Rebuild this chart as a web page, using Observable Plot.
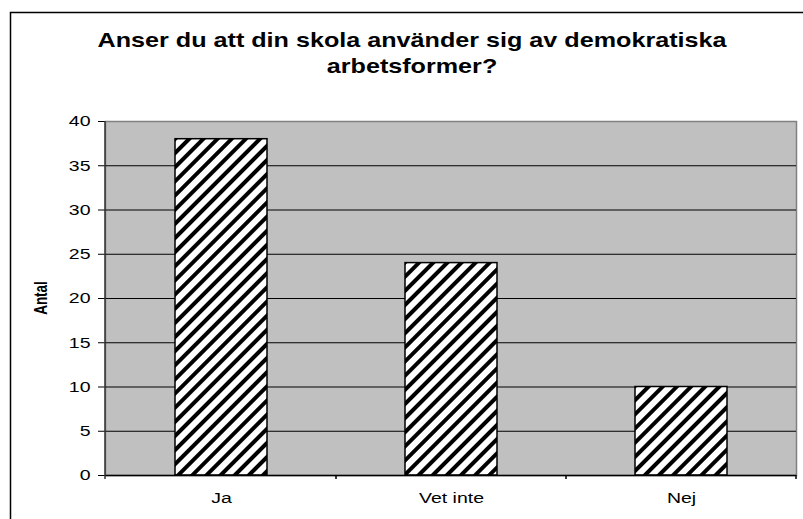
<!DOCTYPE html>
<html>
<head>
<meta charset="utf-8">
<script src="https://cdn.jsdelivr.net/npm/d3@7"></script>
<script src="https://cdn.jsdelivr.net/npm/@observablehq/plot@0.6"></script>
<style>
  html, body { margin: 0; padding: 0; background: #fff; }
  #chart { position: relative; width: 803px; height: 519px; overflow: hidden; }
</style>
</head>
<body>
<div id="chart"></div>
<script>
const titleLines = ["Anser du att din skola använder sig av demokratiska", "arbetsformer?"];
const yLabel = "Antal";
const categories = ["Ja", "Vet inte", "Nej"];
const values = [38, 24, 10];
const yTicks = [0, 5, 10, 15, 20, 25, 30, 35, 40];
const gridValues = [5, 10, 15, 20, 25, 30, 35];

const data = categories.map((c, i) => ({cat: c, val: values[i]}));
const font = "'Liberation Sans', Arial, sans-serif";
const SX = 1.3; // horizontal stretch of the reference's text

const plot = Plot.plot({
  width: 803,
  height: 519,
  marginLeft: 105,
  marginRight: 7,
  marginTop: 121,
  marginBottom: 44,
  style: {fontFamily: font, fontSize: "15px", color: "black", background: "white"},
  x: {domain: categories, paddingInner: 0.6, paddingOuter: 0.3, label: null},
  y: {domain: [0, 40], label: null},
  marks: [
    Plot.frame({fill: "#c0c0c0", stroke: "#808080", strokeWidth: 1.5}),
    Plot.ruleY(gridValues, {stroke: "black", strokeWidth: 1}),
    Plot.barY(data, {x: "cat", y: "val", fill: "url(#hatch)", stroke: "black", strokeWidth: 1.5}),
    Plot.ruleY([0], {stroke: "black", strokeWidth: 1.5}),
    Plot.axisY({ticks: yTicks, tickSize: 7, tickPadding: 8, stroke: "black", fontSize: 15, label: null}),
    Plot.axisX({tickSize: 0, tickPadding: 17, fontSize: 15, label: null})
  ]
});

const svg = d3.select(plot);
// hatch pattern
const defs = svg.insert("defs", ":first-child");
const pat = defs.append("pattern")
  .attr("id", "hatch")
  .attr("patternUnits", "userSpaceOnUse")
  .attr("width", 10).attr("height", 10)
  .attr("patternTransform", "rotate(45)");
pat.append("rect").attr("width", 10).attr("height", 10).attr("fill", "white");
pat.append("rect").attr("x", 0).attr("width", 4).attr("height", 10).attr("fill", "black");

// stretch tick labels horizontally like the reference
svg.selectAll("g[aria-label='y-axis tick label'], g[aria-label='x-axis tick label']")
  .attr("font-size", 15)
  .selectAll("text")
  .each(function() {
    const el = d3.select(this);
    const t = el.attr("transform") || "";
    el.attr("transform", (t + ` scale(${SX},1)`).trim());
  });

const xs = plot.scale("x");
const ys = plot.scale("y");
const y0 = ys.apply(0), y40 = ys.apply(40);
const left = xs.range[0], right = xs.range[1];

// left axis line
svg.append("line")
  .attr("x1", left).attr("x2", left)
  .attr("y1", y40).attr("y2", y0 + 4)
  .attr("stroke", "#333").attr("stroke-width", 1.5);

// category boundary ticks
const bounds = [];
categories.forEach((c, i) => {
  const cx = xs.apply(c) + xs.bandwidth / 2;
  if (i > 0) bounds.push(cx - xs.step / 2);
});
bounds.push(right);
bounds.forEach(bx => {
  svg.append("line")
    .attr("x1", bx).attr("x2", bx)
    .attr("y1", y0).attr("y2", y0 + 4)
    .attr("stroke", "black").attr("stroke-width", 1.5);
});

// y label
svg.append("text")
  .attr("transform", `translate(47,${(y0 + y40) / 2}) scale(${SX},1) rotate(-90)`)
  .attr("text-anchor", "middle")
  .attr("font-family", font)
  .attr("font-weight", "bold")
  .attr("font-size", 13.5)
  .text(yLabel);

// title
titleLines.forEach((t, i) => {
  svg.append("text")
    .attr("transform", `translate(412,${47 + i * 26}) scale(1.29,1)`)
    .attr("text-anchor", "middle")
    .attr("font-family", font)
    .attr("font-weight", "bold")
    .attr("font-size", 19.5)
    .attr("fill", "black")
    .text(t);
});

// outer chart border
svg.append("rect")
  .attr("x", 10.5).attr("y", 12.5)
  .attr("width", 1000).attr("height", 1000)
  .attr("fill", "none")
  .attr("stroke", "black").attr("stroke-width", 1.5);

document.getElementById("chart").appendChild(plot);
</script>
</body>
</html>
